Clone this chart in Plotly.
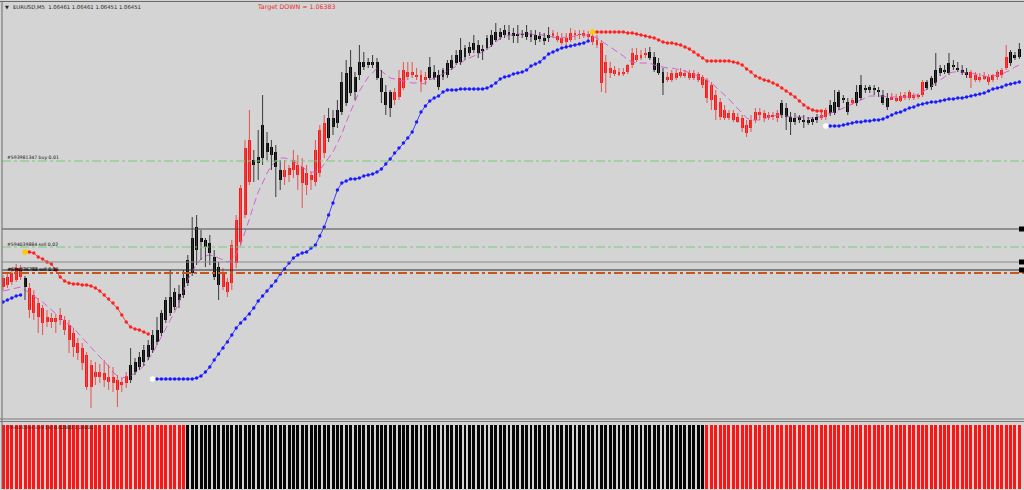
import plotly.graph_objects as go

# ---------------- texts ----------------
symbol_title = "EURUSD,M5  1.06461 1.06461 1.06451 1.06451"
target_text = "Target DOWN = 1.06383"
indicator_title = "Trend Direction(14) 0.00000 1.00000"
order_labels = ["#593981347 buy 0.01", "#594039884 sell 0.02", "#594036788 sell 0.01"]

# ---------------- candle data (EURUSD M5) ----------------
opens = [1.06222, 1.06223, 1.06227, 1.06232, 1.06230, 1.06213, 1.06212, 1.06205, 1.06197, 1.06192,
         1.06183, 1.06182, 1.06182, 1.06185, 1.06180, 1.06175, 1.06167, 1.06157, 1.06152, 1.06145,
         1.06135, 1.06128, 1.06128, 1.06127, 1.06123, 1.06123, 1.06120, 1.06118, 1.06124, 1.06120,
         1.06128, 1.06133, 1.06138, 1.06143, 1.06150, 1.06158, 1.06167, 1.06180, 1.06187, 1.06193,
         1.06200, 1.06205, 1.06217, 1.06227, 1.06250, 1.06258, 1.06253, 1.06257, 1.06243, 1.06233,
         1.06227, 1.06218, 1.06217, 1.06237, 1.06258, 1.06285, 1.06318, 1.06335, 1.06337, 1.06342,
         1.06357, 1.06353, 1.06348, 1.06330, 1.06330, 1.06325, 1.06330, 1.06335, 1.06333, 1.06327,
         1.06320, 1.06318, 1.06327, 1.06347, 1.06362, 1.06373, 1.06377, 1.06388, 1.06397, 1.06407,
         1.06408, 1.06425, 1.06433, 1.06435, 1.06438, 1.06438, 1.06422, 1.06408, 1.06392, 1.06400,
         1.06403, 1.06412, 1.06428, 1.06428, 1.06425, 1.06425, 1.06423, 1.06422, 1.06428, 1.06425,
         1.06423, 1.06425, 1.06432, 1.06437, 1.06438, 1.06443, 1.06447, 1.06450, 1.06455, 1.06449,
         1.06452, 1.06455, 1.06460, 1.06463, 1.06465, 1.06468, 1.06467, 1.06466, 1.06465, 1.06463,
         1.06466, 1.06465, 1.06464, 1.06462, 1.06462, 1.06467, 1.06464, 1.06462, 1.06458, 1.06460,
         1.06465, 1.06465, 1.06467, 1.06466, 1.06464, 1.06460, 1.06457, 1.06438, 1.06432, 1.06430,
         1.06428, 1.06426, 1.06428, 1.06435, 1.06445, 1.06445, 1.06445, 1.06442, 1.06443, 1.06437,
         1.06428, 1.06423, 1.06427, 1.06427, 1.06428, 1.06427, 1.06427, 1.06427, 1.06426, 1.06423,
         1.06420, 1.06415, 1.06405, 1.06398, 1.06390, 1.06387, 1.06387, 1.06383, 1.06382, 1.06375,
         1.06372, 1.06380, 1.06385, 1.06387, 1.06385, 1.06383, 1.06382, 1.06385, 1.06392, 1.06383,
         1.06378, 1.06380, 1.06380, 1.06380, 1.06378, 1.06380, 1.06382, 1.06383, 1.06387, 1.06387,
         1.06393, 1.06400, 1.06398, 1.06397, 1.06397, 1.06402, 1.06410, 1.06410, 1.06410, 1.06408,
         1.06405, 1.06402, 1.06403, 1.06402, 1.06404, 1.06405, 1.06402, 1.06402, 1.06403, 1.06405,
         1.06412, 1.06413, 1.06417, 1.06427, 1.06428, 1.06427, 1.06433, 1.06432, 1.06430, 1.06428,
         1.06428, 1.06425, 1.06423, 1.06424, 1.06423, 1.06420, 1.06423, 1.06425, 1.06432, 1.06437,
         1.06442, 1.06443]

highs = [1.06225, 1.06227, 1.06232, 1.06236, 1.06235, 1.06224, 1.06217, 1.06210, 1.06202, 1.06195,
         1.06190, 1.06187, 1.06186, 1.06192, 1.06184, 1.06180, 1.06172, 1.06162, 1.06157, 1.06148,
         1.06140, 1.06138, 1.06136, 1.06140, 1.06135, 1.06133, 1.06125, 1.06122, 1.06128, 1.06152,
         1.06142, 1.06148, 1.06155, 1.06160, 1.06170, 1.06183, 1.06190, 1.06203, 1.06230, 1.06212,
         1.06215, 1.06230, 1.06245, 1.06283, 1.06285, 1.06270, 1.06262, 1.06265, 1.06250, 1.06238,
         1.06232, 1.06222, 1.06260, 1.06285, 1.06315, 1.06360, 1.06390, 1.06350, 1.06370, 1.06405,
         1.06368, 1.06360, 1.06355, 1.06340, 1.06340, 1.06335, 1.06350, 1.06345, 1.06342, 1.06335,
         1.06328, 1.06360, 1.06375, 1.06385, 1.06392, 1.06390, 1.06400, 1.06428, 1.06440, 1.06450,
         1.06428, 1.06455, 1.06448, 1.06442, 1.06445, 1.06442, 1.06430, 1.06415, 1.06410, 1.06412,
         1.06430, 1.06438, 1.06438, 1.06438, 1.06432, 1.06430, 1.06428, 1.06443, 1.06435, 1.06430,
         1.06432, 1.06440, 1.06445, 1.06450, 1.06462, 1.06455, 1.06458, 1.06465, 1.06460, 1.06455,
         1.06465, 1.06470, 1.06477, 1.06472, 1.06475, 1.06475, 1.06472, 1.06475, 1.06470, 1.06475,
         1.06470, 1.06470, 1.06468, 1.06467, 1.06473, 1.06470, 1.06468, 1.06467, 1.06467, 1.06472,
         1.06470, 1.06470, 1.06470, 1.06469, 1.06468, 1.06465, 1.06460, 1.06445, 1.06438, 1.06434,
         1.06432, 1.06432, 1.06436, 1.06452, 1.06452, 1.06450, 1.06452, 1.06453, 1.06448, 1.06442,
         1.06432, 1.06428, 1.06430, 1.06430, 1.06432, 1.06430, 1.06430, 1.06430, 1.06428, 1.06425,
         1.06422, 1.06418, 1.06410, 1.06402, 1.06395, 1.06390, 1.06390, 1.06387, 1.06385, 1.06380,
         1.06385, 1.06392, 1.06392, 1.06390, 1.06388, 1.06388, 1.06390, 1.06400, 1.06397, 1.06388,
         1.06387, 1.06385, 1.06385, 1.06383, 1.06383, 1.06386, 1.06388, 1.06392, 1.06400, 1.06410,
         1.06410, 1.06405, 1.06402, 1.06402, 1.06415, 1.06425, 1.06415, 1.06415, 1.06415, 1.06413,
         1.06410, 1.06407, 1.06407, 1.06406, 1.06408, 1.06408, 1.06410, 1.06407, 1.06406, 1.06420,
         1.06420, 1.06424, 1.06447, 1.06435, 1.06435, 1.06447, 1.06440, 1.06438, 1.06435, 1.06432,
         1.06430, 1.06428, 1.06427, 1.06428, 1.06426, 1.06426, 1.06430, 1.06432, 1.06455, 1.06450,
         1.06448, 1.06457]

lows = [1.06210, 1.06212, 1.06215, 1.06218, 1.06220, 1.06200, 1.06182, 1.06180, 1.06167, 1.06165,
        1.06173, 1.06172, 1.06167, 1.06175, 1.06165, 1.06147, 1.06143, 1.06140, 1.06130, 1.06110,
        1.06092, 1.06115, 1.06117, 1.06113, 1.06110, 1.06108, 1.06093, 1.06108, 1.06112, 1.06117,
        1.06125, 1.06130, 1.06134, 1.06140, 1.06147, 1.06155, 1.06164, 1.06177, 1.06184, 1.06190,
        1.06192, 1.06202, 1.06214, 1.06224, 1.06235, 1.06240, 1.06233, 1.06235, 1.06220, 1.06200,
        1.06210, 1.06203, 1.06210, 1.06232, 1.06255, 1.06282, 1.06315, 1.06318, 1.06320, 1.06335,
        1.06340, 1.06330, 1.06303, 1.06310, 1.06315, 1.06318, 1.06322, 1.06310, 1.06292, 1.06305,
        1.06310, 1.06314, 1.06323, 1.06342, 1.06358, 1.06365, 1.06372, 1.06385, 1.06394, 1.06404,
        1.06400, 1.06420, 1.06430, 1.06432, 1.06432, 1.06420, 1.06397, 1.06385, 1.06383, 1.06395,
        1.06400, 1.06410, 1.06420, 1.06422, 1.06420, 1.06408, 1.06415, 1.06420, 1.06420, 1.06410,
        1.06420, 1.06422, 1.06430, 1.06435, 1.06435, 1.06440, 1.06444, 1.06447, 1.06442, 1.06440,
        1.06450, 1.06453, 1.06458, 1.06460, 1.06462, 1.06460, 1.06457, 1.06457, 1.06462, 1.06460,
        1.06458, 1.06455, 1.06458, 1.06455, 1.06458, 1.06462, 1.06458, 1.06455, 1.06454, 1.06458,
        1.06460, 1.06461, 1.06462, 1.06461, 1.06455, 1.06452, 1.06408, 1.06407, 1.06422, 1.06424,
        1.06424, 1.06424, 1.06426, 1.06432, 1.06438, 1.06440, 1.06442, 1.06440, 1.06428, 1.06425,
        1.06405, 1.06418, 1.06418, 1.06420, 1.06422, 1.06422, 1.06420, 1.06420, 1.06418, 1.06412,
        1.06397, 1.06390, 1.06380, 1.06380, 1.06380, 1.06380, 1.06378, 1.06377, 1.06368, 1.06363,
        1.06368, 1.06377, 1.06380, 1.06378, 1.06380, 1.06380, 1.06378, 1.06382, 1.06370, 1.06365,
        1.06375, 1.06377, 1.06372, 1.06375, 1.06375, 1.06377, 1.06380, 1.06380, 1.06384, 1.06385,
        1.06390, 1.06397, 1.06385, 1.06395, 1.06394, 1.06400, 1.06407, 1.06407, 1.06405, 1.06403,
        1.06395, 1.06390, 1.06400, 1.06398, 1.06398, 1.06400, 1.06400, 1.06400, 1.06401, 1.06403,
        1.06410, 1.06410, 1.06414, 1.06424, 1.06426, 1.06425, 1.06430, 1.06428, 1.06425, 1.06422,
        1.06412, 1.06418, 1.06418, 1.06420, 1.06415, 1.06418, 1.06420, 1.06422, 1.06430, 1.06434,
        1.06440, 1.06441]

closes = [1.06213, 1.06215, 1.06218, 1.06220, 1.06223, 1.06222, 1.06190, 1.06187, 1.06183, 1.06177,
          1.06178, 1.06178, 1.06178, 1.06180, 1.06170, 1.06160, 1.06153, 1.06147, 1.06137, 1.06113,
          1.06113, 1.06123, 1.06123, 1.06120, 1.06118, 1.06117, 1.06110, 1.06115, 1.06117, 1.06135,
          1.06138, 1.06143, 1.06150, 1.06155, 1.06165, 1.06170, 1.06187, 1.06200, 1.06203, 1.06208,
          1.06206, 1.06222, 1.06240, 1.06262, 1.06273, 1.06262, 1.06260, 1.06247, 1.06223, 1.06215,
          1.06213, 1.06208, 1.06255, 1.06280, 1.06312, 1.06352, 1.06360, 1.06340, 1.06343, 1.06375,
          1.06348, 1.06345, 1.06333, 1.06320, 1.06323, 1.06332, 1.06340, 1.06325, 1.06317, 1.06315,
          1.06325, 1.06350, 1.06370, 1.06377, 1.06382, 1.06382, 1.06390, 1.06418, 1.06427, 1.06433,
          1.06423, 1.06438, 1.06438, 1.06438, 1.06435, 1.06422, 1.06408, 1.06395, 1.06408, 1.06408,
          1.06422, 1.06430, 1.06423, 1.06425, 1.06423, 1.06418, 1.06420, 1.06433, 1.06422, 1.06413,
          1.06430, 1.06437, 1.06440, 1.06445, 1.06450, 1.06452, 1.06453, 1.06457, 1.06447, 1.06451,
          1.06462, 1.06465, 1.06468, 1.06468, 1.06470, 1.06465, 1.06464, 1.06464, 1.06466, 1.06468,
          1.06463, 1.06460, 1.06461, 1.06459, 1.06465, 1.06464, 1.06460, 1.06457, 1.06462, 1.06467,
          1.06467, 1.06466, 1.06464, 1.06463, 1.06458, 1.06455, 1.06417, 1.06427, 1.06427, 1.06426,
          1.06425, 1.06428, 1.06435, 1.06447, 1.06440, 1.06442, 1.06447, 1.06448, 1.06430, 1.06427,
          1.06417, 1.06420, 1.06420, 1.06422, 1.06424, 1.06424, 1.06422, 1.06422, 1.06420, 1.06415,
          1.06402, 1.06400, 1.06390, 1.06383, 1.06382, 1.06382, 1.06380, 1.06378, 1.06372, 1.06367,
          1.06380, 1.06388, 1.06388, 1.06382, 1.06382, 1.06385, 1.06387, 1.06397, 1.06383, 1.06378,
          1.06382, 1.06383, 1.06378, 1.06377, 1.06381, 1.06383, 1.06385, 1.06390, 1.06395, 1.06398,
          1.06408, 1.06402, 1.06388, 1.06400, 1.06408, 1.06415, 1.06412, 1.06413, 1.06412, 1.06410,
          1.06397, 1.06393, 1.06400, 1.06399, 1.06399, 1.06402, 1.06408, 1.06405, 1.06405, 1.06418,
          1.06418, 1.06422, 1.06430, 1.06432, 1.06430, 1.06437, 1.06435, 1.06430, 1.06427, 1.06425,
          1.06422, 1.06420, 1.06420, 1.06421, 1.06418, 1.06425, 1.06428, 1.06430, 1.06443, 1.06448,
          1.06445, 1.06451]

# candle body colour runs: r = red, k = black
candle_color_runs = [("r", 5), ("k", 1), ("r", 23), ("k", 21), ("r", 7), ("k", 7), ("r", 10),
                     ("k", 15), ("r", 8), ("k", 28), ("r", 22), ("k", 4), ("r", 26), ("k", 9),
                     ("r", 2), ("k", 5), ("r", 1), ("k", 8), ("r", 8), ("k", 10), ("r", 9), ("k", 3)]

# moving average (magenta dashed)
moving_avg = [1.06209, 1.06210, 1.06211, 1.06212, 1.06213, 1.06210, 1.06207, 1.06204, 1.06201, 1.06198,
              1.06194, 1.06190, 1.06186, 1.06182, 1.06179, 1.06175, 1.06172, 1.06167, 1.06163, 1.06158,
              1.06152, 1.06148, 1.06143, 1.06139, 1.06133, 1.06128, 1.06124, 1.06122, 1.06123, 1.06124,
              1.06127, 1.06130, 1.06134, 1.06140, 1.06147, 1.06155, 1.06163, 1.06171, 1.06179, 1.06188,
              1.06198, 1.06209, 1.06220, 1.06228, 1.06236, 1.06241, 1.06244, 1.06245, 1.06244, 1.06242,
              1.06240, 1.06238, 1.06240, 1.06246, 1.06255, 1.06267, 1.06281, 1.06295, 1.06308, 1.06317,
              1.06327, 1.06334, 1.06339, 1.06342, 1.06342, 1.06341, 1.06339, 1.06336, 1.06333, 1.06330,
              1.06328, 1.06328, 1.06330, 1.06336, 1.06343, 1.06348, 1.06357, 1.06366, 1.06378, 1.06389,
              1.06399, 1.06409, 1.06416, 1.06423, 1.06427, 1.06432, 1.06429, 1.06425, 1.06422, 1.06421,
              1.06420, 1.06419, 1.06418, 1.06417, 1.06417, 1.06416, 1.06417, 1.06420, 1.06422, 1.06424,
              1.06426, 1.06429, 1.06431, 1.06434, 1.06437, 1.06440, 1.06442, 1.06444, 1.06446, 1.06448,
              1.06451, 1.06454, 1.06458, 1.06462, 1.06463, 1.06465, 1.06465, 1.06466, 1.06466, 1.06466,
              1.06466, 1.06465, 1.06465, 1.06465, 1.06464, 1.06463, 1.06462, 1.06462, 1.06463, 1.06463,
              1.06464, 1.06465, 1.06465, 1.06465, 1.06464, 1.06462, 1.06459, 1.06456, 1.06453, 1.06450,
              1.06447, 1.06444, 1.06440, 1.06438, 1.06437, 1.06437, 1.06437, 1.06437, 1.06435, 1.06434,
              1.06433, 1.06432, 1.06432, 1.06431, 1.06430, 1.06429, 1.06427, 1.06426, 1.06424, 1.06422,
              1.06420, 1.06417, 1.06413, 1.06410, 1.06406, 1.06401, 1.06396, 1.06391, 1.06386, 1.06382,
              1.06380, 1.06380, 1.06380, 1.06381, 1.06383, 1.06384, 1.06385, 1.06385, 1.06384, 1.06383,
              1.06383, 1.06383, 1.06383, 1.06382, 1.06382, 1.06383, 1.06383, 1.06385, 1.06387, 1.06388,
              1.06390, 1.06392, 1.06394, 1.06396, 1.06398, 1.06400, 1.06402, 1.06404, 1.06404, 1.06404,
              1.06404, 1.06403, 1.06403, 1.06403, 1.06403, 1.06403, 1.06403, 1.06404, 1.06406, 1.06408,
              1.06411, 1.06414, 1.06417, 1.06420, 1.06423, 1.06427, 1.06428, 1.06428, 1.06428, 1.06427,
              1.06427, 1.06426, 1.06425, 1.06424, 1.06423, 1.06424, 1.06425, 1.06426, 1.06428, 1.06430,
              1.06433, 1.06435]

# trailing-stop dots: upper (red, down-trend) and lower (blue, up-trend) segments
blue_stop_a_start = 0
blue_stop_a = [1.06198, 1.06200, 1.06202, 1.06204, 1.06205]

red_stop_a_start = 5
red_stop_a = [1.06248, 1.06248, 1.06247, 1.06243, 1.06241, 1.06238, 1.06236, 1.06230, 1.06223, 1.06219,
              1.06217, 1.06216, 1.06216, 1.06215, 1.06215, 1.06214, 1.06212, 1.06209, 1.06205, 1.06201,
              1.06197, 1.06192, 1.06185, 1.06178, 1.06173, 1.06171, 1.06170, 1.06168, 1.06166]

blue_stop_b_start = 34
blue_stop_b = [1.06121, 1.06121, 1.06121, 1.06121, 1.06121, 1.06121, 1.06121, 1.06121, 1.06121, 1.06121,
               1.06122, 1.06124, 1.06128, 1.06133, 1.06140, 1.06146, 1.06152, 1.06158, 1.06165, 1.06172,
               1.06177, 1.06181, 1.06186, 1.06192, 1.06199, 1.06204, 1.06209, 1.06214, 1.06219, 1.06226,
               1.06231, 1.06237, 1.06242, 1.06245, 1.06247, 1.06248, 1.06252, 1.06255, 1.06264, 1.06273,
               1.06285, 1.06297, 1.06310,
               1.06317, 1.06319, 1.06321, 1.06321, 1.06322, 1.06324, 1.06325, 1.06326, 1.06328, 1.06331,
               1.06336, 1.06341, 1.06347, 1.06352, 1.06357, 1.06362, 1.06368, 1.06378, 1.06388, 1.06394,
               1.06399, 1.06402, 1.06404, 1.06408, 1.06410, 1.06410, 1.06410, 1.06411, 1.06411, 1.06411,
               1.06411, 1.06411, 1.06411, 1.06412, 1.06414, 1.06417, 1.06421, 1.06423, 1.06424, 1.06426,
               1.06427, 1.06428, 1.06430, 1.06434, 1.06436, 1.06438, 1.06442, 1.06446, 1.06448, 1.06450,
               1.06452, 1.06453, 1.06454, 1.06455, 1.06456, 1.06457, 1.06459]

red_stop_b_start = 134
red_stop_b = [1.06468, 1.06468, 1.06468, 1.06468, 1.06468, 1.06468, 1.06468, 1.06468, 1.06467, 1.06467,
              1.06466, 1.06465, 1.06464, 1.06463, 1.06462, 1.06460, 1.06458, 1.06457,
              1.06457, 1.06456, 1.06455, 1.06453, 1.06451, 1.06448, 1.06445, 1.06442,
              1.06439, 1.06439, 1.06439, 1.06439, 1.06439, 1.06439,
              1.06438, 1.06437, 1.06435, 1.06431, 1.06428, 1.06424, 1.06422, 1.06420, 1.06419, 1.06417,
              1.06415, 1.06412, 1.06409, 1.06406, 1.06403, 1.06399, 1.06395, 1.06392, 1.06390, 1.06389,
              1.06389]

blue_stop_c_start = 187
blue_stop_c = [1.06374, 1.06374, 1.06374, 1.06374, 1.06375, 1.06376, 1.06377, 1.06378, 1.06378, 1.06379,
               1.06379, 1.06380, 1.06380, 1.06381, 1.06383, 1.06385, 1.06387, 1.06388, 1.06390, 1.06392,
               1.06393, 1.06395, 1.06396, 1.06397, 1.06398, 1.06398, 1.06399, 1.06400, 1.06401, 1.06401,
               1.06402, 1.06402, 1.06403, 1.06404, 1.06405, 1.06406, 1.06407, 1.06409, 1.06411, 1.06412,
               1.06413, 1.06415, 1.06416, 1.06417, 1.06418]

# trend direction histogram runs: -1 down (red), +1 up (black)
trend_runs = [(-1, 42), (1, 118), (-1, 72)]

# order / price levels
order_levels = [1.06339, 1.06253, 1.06227]          # buy 0.01, sell 0.02, sell 0.01
order_styles = [("#74cc74", 1, "dashdot"), ("#74cc74", 1, "dashdot"), ("#c8561a", 2, "dashdot")]
solid_levels = [1.06271, 1.06238, 1.06230]
solid_colors = ["#4a4a4a", "#8a8a8a", "#2a2a2a"]

# ---------------- figure ----------------
W, H = 1024, 490
BG = "#d4d4d4"
RED = "#ff1414"
RED_WICK = "#e85050"
BLACK = "#050505"
BLACK_WICK = "#3a3a3a"


def py(p):
    return 1 - p / H


N = len(opens)
idx = list(range(N))
colors = []
for c, n in candle_color_runs:
    colors += [c] * n

fig = go.Figure()

# moving average
fig.add_trace(go.Scatter(x=idx, y=moving_avg, mode="lines",
                         line=dict(color="#d860d8", width=1, dash="7px,4px"), hoverinfo="skip"))

# wicks
for col, wc in (("r", RED_WICK), ("k", BLACK_WICK)):
    xs, ys = [], []
    for i in idx:
        if colors[i] == col:
            xs += [i, i, None]
            ys += [lows[i], highs[i], None]
    fig.add_trace(go.Scatter(x=xs, y=ys, mode="lines", line=dict(color=wc, width=1), hoverinfo="skip"))

# bodies
for col, bc in (("r", RED), ("k", BLACK)):
    sel = [i for i in idx if colors[i] == col]
    base = [min(opens[i], closes[i]) for i in sel]
    hgt = [max(abs(closes[i] - opens[i]), 0.000012) for i in sel]
    fig.add_trace(go.Bar(x=sel, y=hgt, base=base, width=0.68,
                         marker=dict(color=bc, line=dict(width=0)), hoverinfo="skip"))

# trailing stop dots
segments = [(blue_stop_a_start, blue_stop_a, "#1a1aff"), (red_stop_a_start, red_stop_a, "#ff2020"),
            (blue_stop_b_start, blue_stop_b, "#1a1aff"), (red_stop_b_start, red_stop_b, "#ff2020"),
            (blue_stop_c_start, blue_stop_c, "#1a1aff")]
for start, vals, c in segments:
    xs = list(range(start, start + len(vals)))
    fig.add_trace(go.Scatter(x=xs, y=vals, mode="lines+markers",
                             line=dict(color=c, width=0.8), marker=dict(color=c, size=3.4),
                             hoverinfo="skip"))
    if start > 0:
        mc = "#ffcc00" if c == "#ff2020" else "#ffffff"
        fig.add_trace(go.Scatter(x=[start], y=[vals[0]], mode="markers",
                                 marker=dict(color=mc, size=5.5), hoverinfo="skip"))

# trend direction histogram
tx, tcol = [], []
k = 0
for d, n in trend_runs:
    for _ in range(n):
        tx.append(k)
        tcol.append(RED if d < 0 else BLACK)
        k += 1
fig.add_trace(go.Bar(x=tx, y=[1] * len(tx), width=0.68, marker=dict(color=tcol, line=dict(width=0)),
                     xaxis="x2", yaxis="y2", hoverinfo="skip"))

shapes = []
for lvl, (c, w, d) in zip(order_levels, order_styles):
    shapes.append(dict(type="line", xref="paper", yref="y", x0=2 / W, x1=1, y0=lvl, y1=lvl,
                       line=dict(color=c, width=w, dash=d)))
for lvl, c in zip(solid_levels, solid_colors):
    shapes.append(dict(type="line", xref="paper", yref="y", x0=2 / W, x1=1, y0=lvl, y1=lvl,
                       line=dict(color=c, width=1)))
    shapes.append(dict(type="rect", xref="paper", yref="y", x0=1019 / W, x1=1,
                       y0=lvl - 0.000025, y1=lvl + 0.000025, fillcolor="#000000", line=dict(width=0)))
# frame
shapes += [
    dict(type="line", xref="paper", yref="paper", x0=0, x1=1, y0=py(1.5), y1=py(1.5),
         line=dict(color="#6a6a6a", width=1)),
    dict(type="line", xref="paper", yref="paper", x0=2 / W, x1=2 / W, y0=py(489), y1=py(1.5),
         line=dict(color="#6a6a6a", width=1)),
    dict(type="line", xref="paper", yref="paper", x0=0, x1=1, y0=py(419), y1=py(419),
         line=dict(color="#7a7a7a", width=1)),
    dict(type="line", xref="paper", yref="paper", x0=0, x1=1, y0=py(421.5), y1=py(421.5),
         line=dict(color="#7a7a7a", width=1)),
]

FONT = "DejaVu Sans"
ann = [
    dict(text="▼", x=3 / W, y=py(7), xanchor="left", yanchor="middle",
         font=dict(size=5, color="#222222", family=FONT)),
    dict(text=symbol_title, x=11 / W, y=py(7), xanchor="left", yanchor="middle",
         font=dict(size=5.3, color="#222222", family=FONT)),
    dict(text=target_text, x=296 / W, y=py(7), xanchor="center", yanchor="middle",
         font=dict(size=6.3, color="#e83030", family=FONT)),
    dict(text=order_labels[0], x=5 / W, y=py(157), xanchor="left", yanchor="middle",
         font=dict(size=4.6, color="#111111", family=FONT)),
    dict(text=order_labels[1], x=5 / W, y=py(244), xanchor="left", yanchor="middle",
         font=dict(size=4.6, color="#111111", family=FONT)),
    dict(text=order_labels[2], x=5 / W, y=py(269.5), xanchor="left", yanchor="middle",
         font=dict(size=4.6, color="#000000", family=FONT)),
    dict(text=order_labels[2], x=6 / W, y=py(269.5), xanchor="left", yanchor="middle",
         font=dict(size=4.6, color="#000000", family=FONT)),
    dict(text=indicator_title, x=5 / W, y=py(427), xanchor="left", yanchor="middle",
         font=dict(size=4.6, color="#222222", family=FONT)),
]
for a in ann:
    a.update(xref="paper", yref="paper", showarrow=False)

x_range = [-0.23, 232.05]
fig.update_layout(
    width=W, height=H, margin=dict(l=0, r=0, t=0, b=0),
    paper_bgcolor=BG, plot_bgcolor=BG, showlegend=False, barmode="overlay",
    bargap=0, hovermode=False,
    xaxis=dict(domain=[2 / W, 1], range=x_range, visible=False, fixedrange=True),
    yaxis=dict(domain=[py(418), py(2)], range=[1.06082, 1.06498], visible=False, fixedrange=True),
    xaxis2=dict(domain=[2 / W, 1], range=x_range, visible=False, anchor="y2", fixedrange=True),
    yaxis2=dict(domain=[py(489), py(421.5)], range=[0, 1.05], visible=False, anchor="x2",
                fixedrange=True),
    shapes=shapes, annotations=ann,
)

fig.write_html("out.html", config={"displayModeBar": False, "staticPlot": True},
               post_script="document.body.style.margin='0';document.body.style.padding='0';"
                           "document.body.style.overflow='hidden';")
